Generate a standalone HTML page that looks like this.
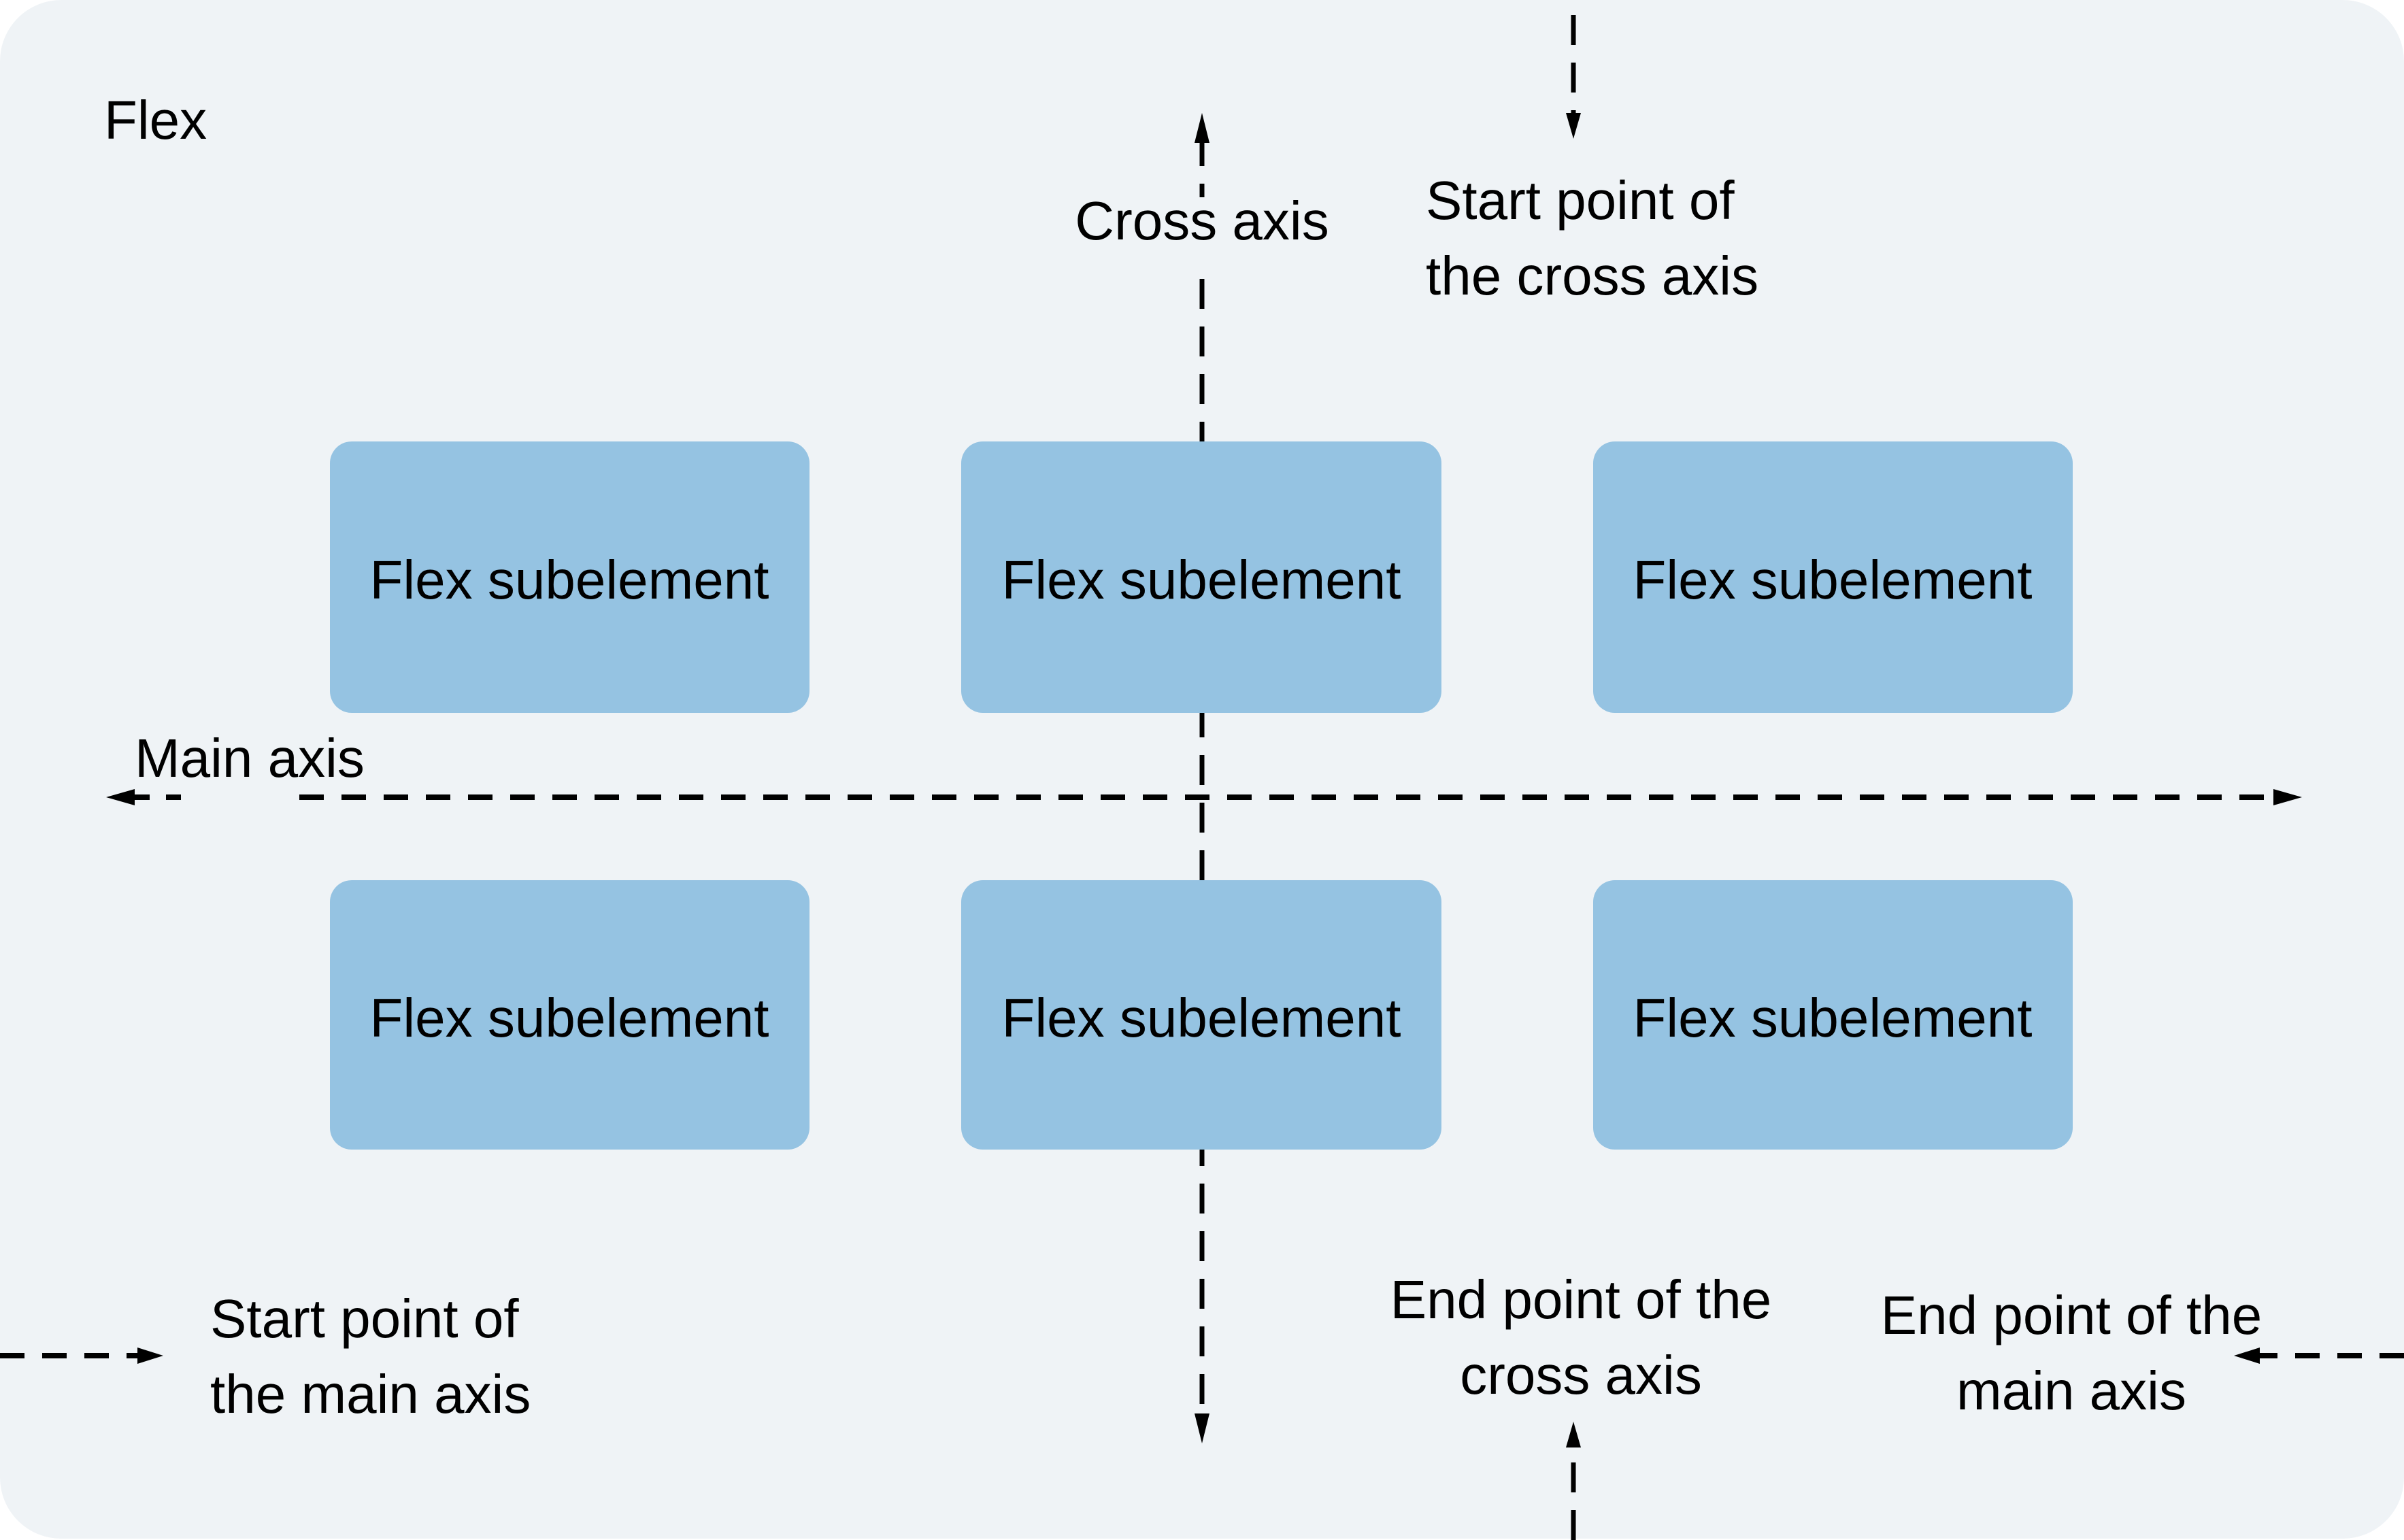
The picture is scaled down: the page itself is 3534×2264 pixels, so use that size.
<!DOCTYPE html>
<html><head><meta charset="utf-8"><style>
html,body{margin:0;padding:0;background:#fff;}
svg{display:block;}
text{font-family:"Liberation Sans",sans-serif;font-size:80px;fill:#000;}
</style></head><body>
<svg width="3534" height="2264" viewBox="0 0 3534 2264" xmlns="http://www.w3.org/2000/svg">
<rect x="0" y="0" width="3534" height="2262" rx="90" ry="90" fill="#eff3f6"/>
<g stroke="#000" stroke-width="7" fill="none">
<line x1="1767" y1="200" x2="1767" y2="2090" stroke-dasharray="44,26"/>
<line x1="190" y1="1172" x2="266" y2="1172" stroke-width="8" stroke-dasharray="30,24"/>
<line x1="440" y1="1172" x2="3350" y2="1172" stroke-width="8" stroke-dasharray="36,26"/>
<line x1="2313" y1="22" x2="2313" y2="175" stroke-dasharray="44,26"/>
<line x1="2313" y1="2264" x2="2313" y2="2120" stroke-dasharray="44,26"/>
<line x1="0" y1="1993" x2="210" y2="1993" stroke-width="8" stroke-dasharray="36,26"/>
<line x1="3534" y1="1993" x2="3316" y2="1993" stroke-width="8" stroke-dasharray="36,26"/>
</g>
<g fill="#000">
<polygon points="1767,166 1756,210 1778,210"/>
<polygon points="1767,2122 1756,2078 1778,2078"/>
<polygon points="156,1172 198,1160 198,1184"/>
<polygon points="3384,1172 3342,1160 3342,1184"/>
<polygon points="2313,204 2302,166 2324,166"/>
<polygon points="2313,2090 2302,2128 2324,2128"/>
<polygon points="240,1993 202,1981 202,2005"/>
<polygon points="3284,1993 3322,1981 3322,2005"/>
</g>
<rect x="1580" y="290" width="380" height="110" fill="#eff3f6"/>
<g fill="#95c3e2">
<rect x="485" y="649" width="705" height="399" rx="32"/>
<rect x="1413" y="649" width="706" height="399" rx="32"/>
<rect x="2342" y="649" width="705" height="399" rx="32"/>
<rect x="485" y="1294" width="705" height="396" rx="32"/>
<rect x="1413" y="1294" width="706" height="396" rx="32"/>
<rect x="2342" y="1294" width="705" height="396" rx="32"/>
</g>
<g text-anchor="middle">
<text x="837" y="880">Flex subelement</text>
<text x="1766" y="880">Flex subelement</text>
<text x="2694" y="880">Flex subelement</text>
<text x="837" y="1524">Flex subelement</text>
<text x="1766" y="1524">Flex subelement</text>
<text x="2694" y="1524">Flex subelement</text>
<text x="1767" y="352">Cross axis</text>
<text x="2324" y="1938">End point of the</text>
<text x="2324" y="2049">cross axis</text>
<text x="3045" y="1961">End point of the</text>
<text x="3045" y="2072">main axis</text>
</g>
<text x="153" y="204">Flex</text>
<text x="198" y="1142">Main axis</text>
<text x="2096" y="322">Start point of</text>
<text x="2096" y="433">the cross axis</text>
<text x="309" y="1966">Start point of</text>
<text x="309" y="2077">the main axis</text>
</svg>
</body></html>
